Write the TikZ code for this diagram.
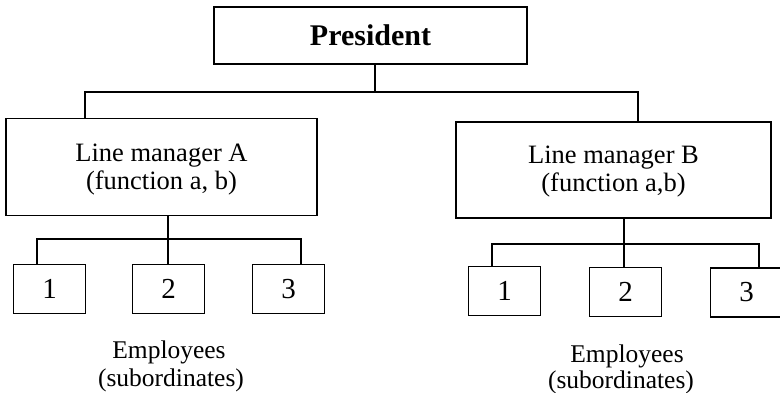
\documentclass[tikz,border=0pt]{standalone}
\usepackage{fontspec}
\setmainfont{Liberation Serif}
\begin{document}
\begin{tikzpicture}[x=1pt,y=-1pt,
  box/.style={draw, line width=1.9pt, inner sep=0pt},
  unit/.style={box, minimum width=72pt, minimum height=49pt,
    font=\fontsize{29}{29}\selectfont},
  mgr/.style={box, minimum width=311pt, minimum height=97pt},
  mgrtext/.style={align=center, inner sep=0pt, font=\fontsize{26.5}{28}\selectfont},
  caption/.style={anchor=base, inner sep=0pt, font=\fontsize{25.5}{25}\selectfont},
  link/.style={line width=1.9pt}]
\useasboundingbox (0,0) rectangle (780,393);

% top of the hierarchy
\node[box, minimum width=313pt, minimum height=57pt,
  font=\bfseries\fontsize{30}{30}\selectfont] (P) at (370.5,35.5) {President};

% line managers
\node[mgr] (A) at (161.5,167) {};
\node[mgrtext] (At) at (161.5,170) {Line manager A\\(function a, b)};
\node[mgr, minimum width=315pt, minimum height=96pt] (B) at (613.5,170) {};
\node[mgrtext] (Bt) at (613.5,172) {Line manager B\\(function a,b)};

% employees under A
\node[unit] (A1) at (49.5,289) {1};
\node[unit] (A2) at (168.5,289) {2};
\node[unit] (A3) at (288.5,289) {3};
\node[caption] (Ae) at (169,358) {Employees};
\node[caption] (As) at (171,386) {(subordinates)};

% employees under B
\node[unit] (B1) at (504.5,291) {1};
\node[unit] (B2) at (625.5,292) {2};
\node[unit] (B3) at (746.5,292.5) {3};
\node[caption] (Be) at (627,362) {Employees};
\node[caption] (Bs) at (621,388) {(subordinates)};

% junction points of the connectors
\coordinate (jP) at (375,92);
\coordinate (tl) at (85,92);
\coordinate (tr) at (638,92);
\coordinate (aj) at (168,239);
\coordinate (a1) at (37,239);
\coordinate (a3) at (301,239);
\coordinate (bj) at (624,244);
\coordinate (b1) at (492,244);
\coordinate (b3) at (759,244);

% president to line managers
\draw[link] (jP |- P.south) -- (jP);
\draw[link] (tl |- A.north) -- (tl) -- (tr) -- (tr |- B.north);

% manager A to its employees
\draw[link] (aj |- A.south) -- (aj |- A2.north);
\draw[link] (a1 |- A1.north) -- (a1) -- (a3) -- (a3 |- A3.north);

% manager B to its employees
\draw[link] (bj |- B.south) -- (bj |- B2.north);
\draw[link] (b1 |- B1.north) -- (b1) -- (b3) -- (b3 |- B3.north);
\end{tikzpicture}
\end{document}
